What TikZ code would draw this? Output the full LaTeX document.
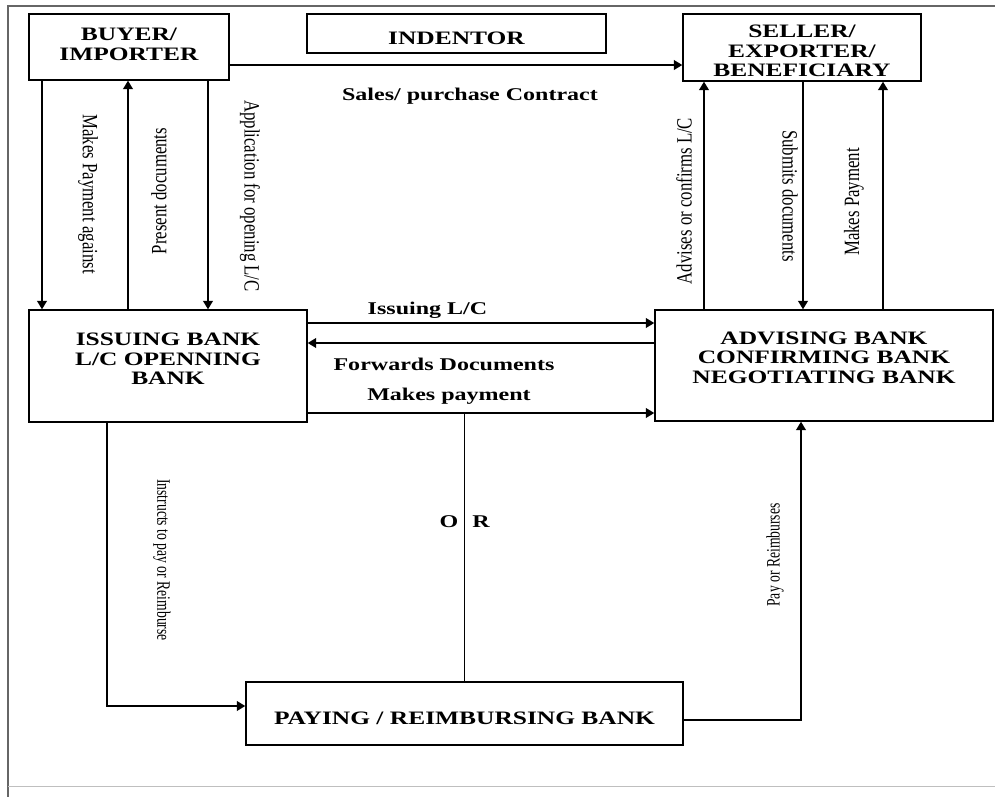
\documentclass[tikz,border=0pt]{standalone}
\usepackage{fontspec}
\setmainfont{Liberation Serif}
\newfontfamily\widefont[FakeStretch=1.34]{Liberation Serif}
\newfontfamily\tallfont[FakeStretch=0.77]{Liberation Serif}
\newfontfamily\slimfont[FakeStretch=0.72]{Liberation Serif}
\usetikzlibrary{arrows.meta}

\begin{document}
\begin{tikzpicture}[x=0.025cm,y=-0.025cm,line width=1pt,
  box/.style={draw,align=center,inner sep=0pt,font=\widefont\bfseries\fontsize{13.5}{13.9}\selectfont},
  arr/.style={-{Triangle[length=6pt,width=7pt]}},
  flow/.style={font=\widefont\bfseries\fontsize{12.75}{14}\selectfont,anchor=base,inner sep=0pt},
  uplabel/.style={font=\tallfont\fontsize{15.5}{16}\selectfont,inner sep=0pt},
  thinlabel/.style={font=\slimfont\fontsize{13.5}{14}\selectfont,inner sep=0pt}]
	\useasboundingbox (0,0) rectangle (995,797);
	% frame of the page
	\draw[black!60,line width=0.8pt] (8,797) -- (8,6) -- (995,6);
	\draw[black!25,line width=0.6pt] (8,786) -- (995,786);

	% parties and banks
	\node[box,minimum width=5cm,minimum height=1.65cm,text depth=0.15cm] (buyer) at (129,47) {BUYER/\\IMPORTER};
	\node[box,minimum width=7.475cm,minimum height=0.975cm,text height=0.54cm,text depth=0pt] (indentor) at (456.5,33.5) {INDENTOR};
	\node[box,minimum width=5.95cm,minimum height=1.675cm] (seller) at (802,47.5) {\rule{0pt}{0.5cm}SELLER/\\EXPORTER/\\BENEFICIARY};
	\node[box,minimum width=6.95cm,minimum height=2.8cm,text depth=0.35cm] (issuing) at (168,366) {ISSUING BANK\\L/C OPENNING\\BANK};
	\node[box,minimum width=8.45cm,minimum height=2.775cm,text depth=0.4cm] (advising) at (824,365.5) {ADVISING BANK\\CONFIRMING BANK\\NEGOTIATING BANK};
	\node[box,minimum width=10.925cm,minimum height=1.575cm,text height=0.54cm,text depth=0pt] (paying) at (464.5,713.5) {PAYING / REIMBURSING BANK};

	% columns and rows of the connectors
	\foreach \c/\x in {a/42,b/128,c/208,d/704,e/803,f/883,i/107,r/801}
	{
	\coordinate (col\c) at (\x,0);
	}
	\foreach \r/\y in {s/65,i/323,f/343,p/413,n/706,q/720}
	{
	\coordinate (row\r) at (0,\y);
	}

	\draw[arr] (buyer.south -| cola) -- (issuing.north -| cola);
	\draw[arr] (issuing.north -| colb) -- (buyer.south -| colb);
	\draw[arr] (buyer.south -| colc) -- (issuing.north -| colc);
	\draw[arr] (advising.north -| cold) -- (seller.south -| cold);
	\draw[arr] (seller.south -| cole) -- (advising.north -| cole);
	\draw[arr] (advising.north -| colf) -- (seller.south -| colf);
	\draw[arr] (buyer.east |- rows) -- (seller.west |- rows);
	\draw[arr] (issuing.east |- rowi) -- (advising.west |- rowi);
	\draw[arr] (advising.west |- rowf) -- (issuing.east |- rowf);
	\draw[arr] (issuing.east |- rowp) -- (advising.west |- rowp);
	\draw (paying.north) -- (paying.north |- rowp);
	\draw[arr] (issuing.south -| coli) |- (paying.west |- rown);
	\draw[arr] (paying.east |- rowq) -| (advising.south -| colr);

	% labels
	\node[flow] (salesl) at (470,100) {Sales/ purchase Contract};
	\node[flow] (issuel) at (427.5,314) {Issuing L/C};
	\node[flow] (forwardl) at (444,370) {Forwards Documents};
	\node[flow] (paidl) at (449,400) {Makes payment};
	\node[flow] (orO) at (449,527) {O};
	\node[flow] (orR) at (481,527) {R};
	\node[uplabel,rotate=-90] (payagainstl) at (88,194) {Makes Payment against};
	\node[uplabel,rotate=90] (presentl) at (159,191) {Present documents};
	\node[uplabel,rotate=-90] (applyl) at (250,196) {Application for opening L/C};
	\node[uplabel,rotate=90] (advisel) at (684,201) {Advises or confirms L/C};
	\node[uplabel,rotate=-90] (submitl) at (790,196) {Submits documents};
	\node[uplabel,rotate=90] (paysellerl) at (854,202) {Makes Payment};
	\node[thinlabel,rotate=-90] (instructl) at (162,560) {Instructs to pay or Reimburse};
	\node[thinlabel,rotate=90] (reimbl) at (775,555) {Pay or Reimburses};
\end{tikzpicture}
\end{document}
